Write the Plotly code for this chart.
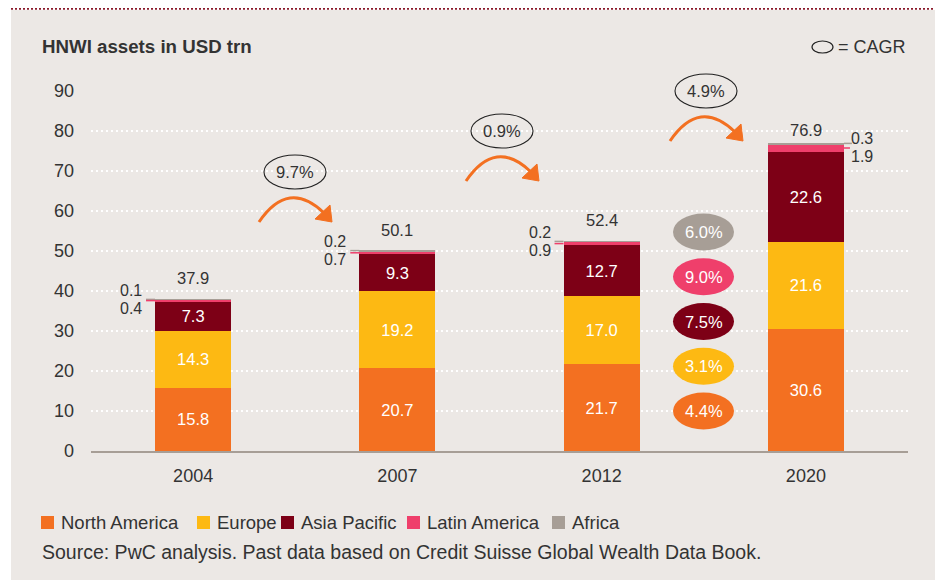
import plotly.graph_objects as go

# ---------------- data ----------------
years = ["2004", "2007", "2012", "2020"]
north_america = [15.8, 20.7, 21.7, 30.6]
europe = [14.3, 19.2, 17.0, 21.6]
asia_pacific = [7.3, 9.3, 12.7, 22.6]
latin_america = [0.4, 0.7, 0.9, 1.9]
africa = [0.1, 0.2, 0.2, 0.3]
totals = [37.9, 50.1, 52.4, 76.9]
period_cagr = ["9.7%", "0.9%", "4.9%"]
region_names = ["North America", "Europe", "Asia Pacific", "Latin America", "Africa"]
region_cagr = ["4.4%", "3.1%", "7.5%", "9.0%", "6.0%"]
y_ticks = [0, 10, 20, 30, 40, 50, 60, 70, 80, 90]

# ---------------- style ----------------
OFF = 8                      # page body margin of the browser
W, H = 943 - OFF, 580 - OFF
FONT = "Liberation Sans, Arial, Helvetica, sans-serif"
TXT = "#333333"
BG = "#ece8e5"
colors = ["#f37021", "#fdb913", "#7d0016", "#ef3f6b", "#a79e96"]
BAR_W = 0.373
label_side = ["left", "left", "left", "right"]


def px(x):
    return (x - OFF) / W


def py(y):
    return 1 - (y - OFF) / H


series = [north_america, europe, asia_pacific, latin_america, africa]

fig = go.Figure()
for k, (name, vals, col) in enumerate(zip(region_names, series, colors)):
    show_text = k < 3
    fig.add_trace(go.Bar(
        x=years, y=vals, name=name, width=BAR_W,
        marker=dict(color=col, line=dict(width=0)),
        text=[f"{v:.1f}" for v in vals] if show_text else None,
        textposition="inside" if show_text else "none",
        insidetextanchor="middle", textangle=0,
        insidetextfont=dict(family=FONT, size=16.5, color="white"),
        hoverinfo="skip", showlegend=False,
    ))

shapes = []
annotations = []


def paper_text(x, y, text, size=16, color=TXT, xanchor="center"):
    annotations.append(dict(x=px(x), y=py(y), xref="paper", yref="paper", text=text,
                            showarrow=False, xanchor=xanchor, yanchor="middle",
                            font=dict(family=FONT, size=size, color=color)))


def small_label(x, y, text, xanchor, xshift, yshift):
    annotations.append(dict(x=x, y=y, xref="x", yref="y", text=text, showarrow=False,
                            xanchor=xanchor, yanchor="middle", xshift=xshift, yshift=yshift,
                            borderpad=0, font=dict(family=FONT, size=16, color=TXT)))


# grey panel + dotted top rule
shapes.append(dict(type="rect", xref="paper", yref="paper", x0=px(11), x1=1, y0=0, y1=py(10),
                   fillcolor=BG, line=dict(width=0), layer="below"))
shapes.append(dict(type="line", xref="paper", yref="paper", x0=px(11), x1=1, y0=py(8.5), y1=py(8.5),
                   line=dict(color="#8b1a2b", width=2.5, dash="2px,2px"), layer="below"))

# totals and small-segment labels
for i, yr in enumerate(years):
    tot = totals[i]
    lat_c = north_america[i] + europe[i] + asia_pacific[i] + latin_america[i] / 2
    side = label_side[i]
    annotations.append(dict(x=i, y=tot, xref="x", yref="y", text=f"{tot:.1f}", showarrow=False,
                            xanchor="center", yanchor="middle", yshift=21 if side == "left" else 13,
                            font=dict(family=FONT, size=16.5, color=TXT)))
    if side == "left":
        edge = i - BAR_W / 2
        shapes.append(dict(type="line", xref="x", yref="y", xsizemode="pixel", xanchor=edge,
                           x0=-9, x1=0, y0=tot, y1=tot, line=dict(color=colors[4], width=1.5)))
        shapes.append(dict(type="line", xref="x", yref="y", xsizemode="pixel", xanchor=edge,
                           x0=-9, x1=0, y0=lat_c, y1=lat_c, line=dict(color=colors[3], width=1.5)))
        small_label(edge, tot, f"{africa[i]:.1f}", "right", -12, 9)
        small_label(edge, tot, f"{latin_america[i]:.1f}", "right", -12, -9)
    else:
        edge = i + BAR_W / 2
        shapes.append(dict(type="line", xref="x", yref="y", xsizemode="pixel", xanchor=edge,
                           x0=0, x1=8, y0=tot, y1=tot, line=dict(color=colors[4], width=1.5)))
        shapes.append(dict(type="line", xref="x", yref="y", xsizemode="pixel", xanchor=edge,
                           x0=0, x1=6, y0=lat_c, y1=lat_c, line=dict(color=colors[3], width=1.5)))
        small_label(edge, tot, f"{africa[i]:.1f}", "left", 6, 5)
        small_label(edge, lat_c, f"{latin_america[i]:.1f}", "left", 6, -8)

# period CAGR ellipses with curved arrows
cagr_centres = [(295, 172), (502, 131), (706, 91)]
ORANGE = colors[0]
for txt, (cx, cy) in zip(period_cagr, cagr_centres):
    shapes.append(dict(type="circle", xref="paper", yref="paper",
                       x0=px(cx - 31), x1=px(cx + 31), y0=py(cy + 17), y1=py(cy - 17),
                       line=dict(color="#222222", width=1.1)))
    paper_text(cx, cy, txt, size=16.5)
    p0 = (cx - 36, cy + 50)
    c = (cx - 6.5, cy + 6.5)
    p1 = (cx + 29, cy + 41)
    path = (f"M {px(p0[0])},{py(p0[1])} Q {px(c[0])},{py(c[1])} {px(p1[0])},{py(p1[1])}")
    shapes.append(dict(type="path", xref="paper", yref="paper", path=path,
                       line=dict(color=ORANGE, width=3)))
    tip = (cx + 37, cy + 50)
    b1 = (cx + 20, cy + 47)
    b2 = (cx + 35, cy + 33)
    tri = (f"M {px(tip[0])},{py(tip[1])} L {px(b1[0])},{py(b1[1])} "
           f"L {px(b2[0])},{py(b2[1])} Z")
    shapes.append(dict(type="path", xref="paper", yref="paper", path=tri,
                       fillcolor=ORANGE, line=dict(color=ORANGE, width=1)))

# region CAGR filled ellipses (top: Africa ... bottom: North America)
col_x = 703.5
for j, k in enumerate([4, 3, 2, 1, 0]):
    cy = 232 + j * 44.75
    shapes.append(dict(type="circle", xref="paper", yref="paper",
                       x0=px(col_x - 30.5), x1=px(col_x + 30.5), y0=py(cy + 18.5), y1=py(cy - 18.5),
                       fillcolor=colors[k], line=dict(width=0)))
    paper_text(col_x, cy, region_cagr[k], size=16.5, color="white")

# title and key
paper_text(40, 47, "<b>HNWI assets in USD trn</b>", size=18.7, xanchor="left")
shapes.append(dict(type="circle", xref="paper", yref="paper", x0=px(812), x1=px(833),
                   y0=py(53), y1=py(41), line=dict(color="#222222", width=1.2)))
paper_text(836, 47, "= CAGR", size=18, xanchor="left")

# custom legend
legend_x = [41, 197, 281, 407, 552]
for k, (name, lx) in enumerate(zip(region_names, legend_x)):
    shapes.append(dict(type="rect", xref="paper", yref="paper", x0=px(lx), x1=px(lx + 13),
                       y0=py(529), y1=py(516), fillcolor=colors[k], line=dict(width=0)))
    paper_text(lx + 18, 522.5, name, size=18.5, xanchor="left")

paper_text(40, 552, "Source: PwC analysis. Past data based on Credit Suisse Global Wealth Data Book.",
           size=19.5, xanchor="left")

fig.update_layout(
    width=W, height=H, barmode="stack",
    margin=dict(l=0, r=0, t=0, b=0),
    paper_bgcolor="white", plot_bgcolor="rgba(0,0,0,0)",
    shapes=shapes, annotations=annotations, showlegend=False,
    xaxis=dict(domain=[px(91), px(908)], type="category", range=[-0.5, 3.5],
               showline=True, linecolor=colors[4], linewidth=2, showgrid=False,
               ticks="", tickfont=dict(family=FONT, size=18, color=TXT),
               ticklabelstandoff=7, automargin=False, fixedrange=True),
    yaxis=dict(domain=[py(451), py(91)], range=[0, 90], tickvals=y_ticks,
               showgrid=True, gridcolor="white", gridwidth=2, griddash="2px,3px",
               zeroline=False, showline=False, ticks="",
               tickfont=dict(family=FONT, size=18, color=TXT),
               ticklabelstandoff=16, automargin=False, fixedrange=True),
)

fig.write_html("out.html")
